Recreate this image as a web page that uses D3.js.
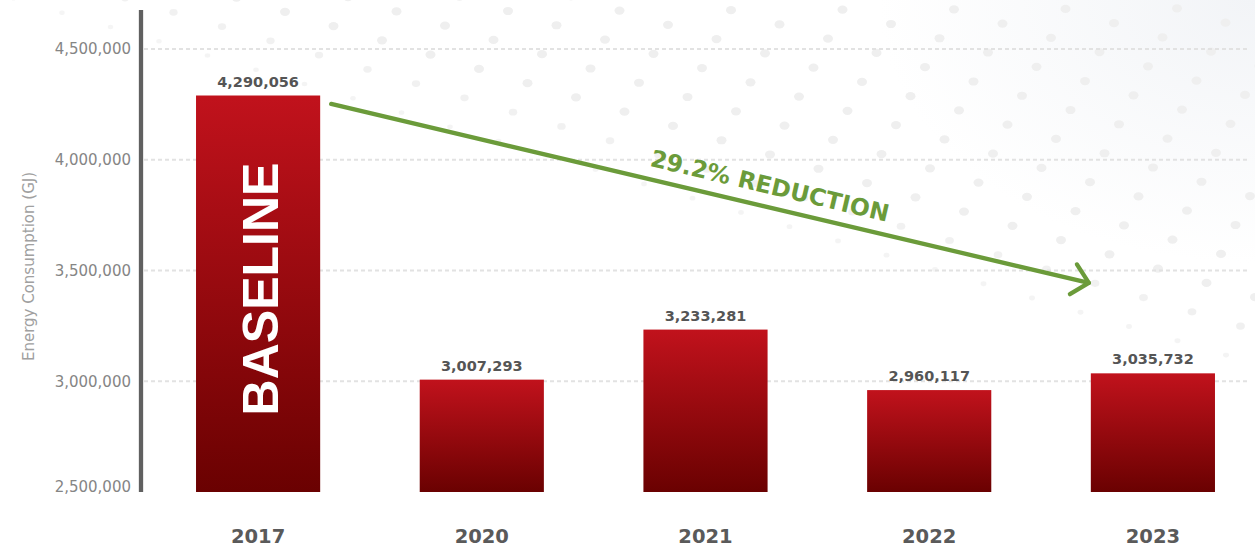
<!DOCTYPE html>
<html><head><meta charset="utf-8">
<script src="https://cdn.jsdelivr.net/npm/d3@7"></script>
<style>body{margin:0;background:#fff;} svg{display:block;}</style>
</head><body><svg id="c" width="1255" height="548"></svg>
<script>
// ---- data ----
const categories = ["2017", "2020", "2021", "2022", "2023"];
const values = [4290056, 3007293, 3233281, 2960117, 3035732];
const yTicks = [2500000, 3000000, 3500000, 4000000, 4500000];
const gridTicks = [3000000, 3500000, 4000000, 4500000];
const axisTitle = "Energy Consumption (GJ)";
const baselineLabel = "BASELINE";
const reductionLabel = "29.2% REDUCTION";
const arrowStartValue = 4252000;
const arrowEndValue = 3444000;

// ---- setup ----
const W = 1255, H = 548;
const svg = d3.select("#c");
const defs = svg.append("defs");
const fmt = d3.format(",");

const x = d3.scaleBand().domain(categories).range([146.25, 1264.75])
  .paddingInner(0.445).paddingOuter(0.2225);
const y = d3.scaleLinear().domain([2500000, 4500000]).range([492, 49]);

// background faint corner shade
const bg = defs.append("radialGradient").attr("id", "bgg")
  .attr("cx", "100%").attr("cy", "0%").attr("r", "30%")
  .attr("gradientTransform", "scale(1,1.6)");
bg.append("stop").attr("offset", "0%").attr("stop-color", "#f2f4f7");
bg.append("stop").attr("offset", "100%").attr("stop-color", "#ffffff");
svg.append("rect").attr("width", W).attr("height", H).attr("fill", "#fff");
svg.append("rect").attr("width", W).attr("height", H).attr("fill", "url(#bgg)");

// decorative dot lattice, fading towards bottom-left
const dots = [];
for (let r = -1; r < 40; r++) {
  const x0 = 954 - 7.25 * r - (Math.abs(r) % 2 ? 55.75 : 0);
  for (let k = -12; k < 14; k++) {
    const xd = x0 + 111.5 * k;
    if (xd < -10 || xd > W + 10) continue;
    const yd = 9.3 + 14.45 * r + 0.0038 * (954 - xd);
    const f = Math.max(0, Math.min(1, (0.3 * xd + 10 - yd) / 70));
    if (f <= 0) continue;
    dots.push({x: xd, y: yd, f});
  }
}
svg.append("g").selectAll("ellipse").data(dots).join("ellipse")
  .attr("cx", d => d.x).attr("cy", d => d.y)
  .attr("rx", d => 2 + 3 * d.f).attr("ry", d => (2 + 3 * d.f) * 0.82)
  .attr("fill", "#efefef").attr("opacity", d => 0.55 + 0.45 * d.f);

// gridlines
svg.append("g").selectAll("line").data(gridTicks).join("line")
  .attr("x1", 144).attr("x2", 1250)
  .attr("y1", d => y(d)).attr("y2", d => y(d))
  .attr("stroke", "#e2e2e2").attr("stroke-width", 2)
  .attr("stroke-dasharray", "4,3");

// bar gradient
const bgr = defs.append("linearGradient").attr("id", "barg")
  .attr("x1", 0).attr("y1", 0).attr("x2", 0).attr("y2", 1);
bgr.append("stop").attr("offset", "0%").attr("stop-color", "#c1121c");
bgr.append("stop").attr("offset", "100%").attr("stop-color", "#6a0101");

const data = categories.map((c, i) => ({c, v: values[i]}));
svg.append("g").selectAll("rect").data(data).join("rect")
  .attr("x", d => x(d.c)).attr("width", x.bandwidth())
  .attr("y", d => y(d.v)).attr("height", d => y(2500000) - y(d.v))
  .attr("fill", "url(#barg)");

// value labels
svg.append("g").selectAll("text").data(data).join("text")
  .attr("x", d => x(d.c) + x.bandwidth() / 2).attr("y", d => y(d.v) - 9)
  .attr("text-anchor", "middle")
  .attr("font-family", "DejaVu Sans").attr("font-weight", "bold")
  .attr("font-size", 14.5).attr("fill", "#555")
  .text(d => fmt(d.v));

// x labels
svg.append("g").selectAll("text").data(categories).join("text")
  .attr("x", d => x(d) + x.bandwidth() / 2).attr("y", 543)
  .attr("text-anchor", "middle")
  .attr("font-family", "DejaVu Sans").attr("font-weight", "bold")
  .attr("font-size", 19.5).attr("fill", "#5a5a5a")
  .text(d => d);

// y axis line
svg.append("line").attr("x1", 141).attr("x2", 141).attr("y1", 10).attr("y2", 492)
  .attr("stroke", "#606060").attr("stroke-width", 4.3);

// y tick labels
svg.append("g").selectAll("text").data(yTicks).join("text")
  .attr("x", 131).attr("y", d => Math.min(y(d), 487)).attr("dy", "0.36em")
  .attr("text-anchor", "end")
  .attr("font-family", "DejaVu Sans").attr("font-size", 15)
  .attr("fill", "#858585")
  .text(d => fmt(d));

// y axis title
svg.append("text").attr("transform", "translate(34,266.5) rotate(-90)")
  .attr("text-anchor", "middle")
  .attr("font-family", "DejaVu Sans").attr("font-size", 15)
  .attr("fill", "#a0a0a0").text(axisTitle);

// BASELINE label inside first bar
svg.append("text")
  .attr("transform", `translate(${x(categories[0]) + x.bandwidth() / 2 + 20},289) rotate(-90)`)
  .attr("text-anchor", "middle")
  .attr("font-family", "Liberation Sans").attr("font-weight", "bold")
  .attr("font-size", 50).attr("fill", "#fff").text(baselineLabel);

// reduction arrow
const green = "#6b9b3a";
const x1 = x(categories[0]) + x.bandwidth() + 11, y1 = y(arrowStartValue);
const x2 = x(categories[categories.length - 1]) - 2, y2 = y(arrowEndValue);
const ang = Math.atan2(y2 - y1, x2 - x1);
const armLen = 22, armAng = 44 * Math.PI / 180;
const a1 = [x2 - armLen * Math.cos(ang - armAng), y2 - armLen * Math.sin(ang - armAng)];
const a2 = [x2 - armLen * Math.cos(ang + armAng), y2 - armLen * Math.sin(ang + armAng)];
const ag = svg.append("g").attr("fill", "none").attr("stroke", green)
  .attr("stroke-width", 4.3).attr("stroke-linecap", "round").attr("stroke-linejoin", "round");
ag.append("line").attr("x1", x1).attr("y1", y1).attr("x2", x2).attr("y2", y2);
ag.append("polyline").attr("points", [a1, [x2, y2], a2].map(p => p.join(",")).join(" "));

const tx = 765, tyLine = y1 + (tx - x1) * Math.tan(ang);
const off = 13;
svg.append("text")
  .attr("transform", `translate(${tx + off * Math.sin(ang)},${tyLine - off * Math.cos(ang)}) rotate(${ang * 180 / Math.PI})`)
  .attr("text-anchor", "middle")
  .attr("font-family", "DejaVu Sans").attr("font-weight", "bold")
  .attr("font-size", 23.5).attr("fill", green).text(reductionLabel);
</script>
</body></html>
